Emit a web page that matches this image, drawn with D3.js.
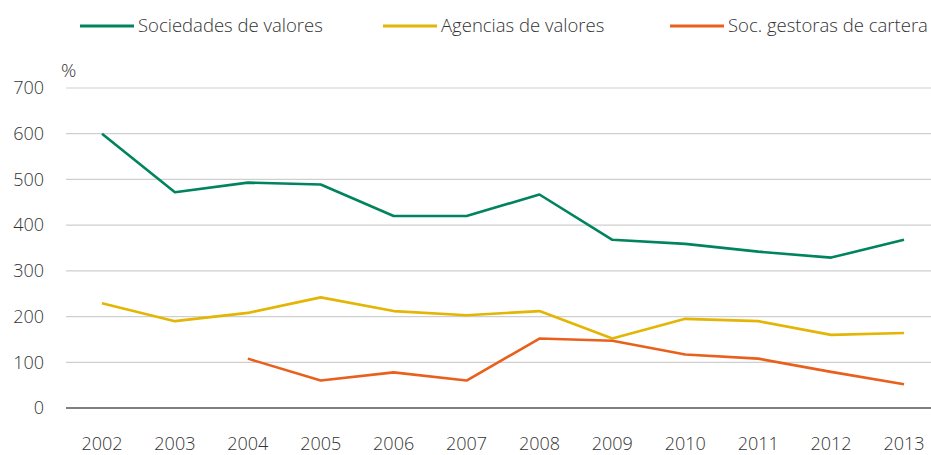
<!DOCTYPE html>
<html>
<head>
<meta charset="utf-8">
<script src="https://cdn.jsdelivr.net/npm/d3@7"></script>
<style>
  body { margin: 0; background: #fff; }
  svg text { font-family: "Open Sans", "Noto Sans", sans-serif; font-weight: 300; fill: #333; }
</style>
</head>
<body>
<div id="chart"></div>
<script>
const years = ['2002', '2003', '2004', '2005', '2006', '2007', '2008', '2009', '2010', '2011', '2012', '2013'];
const sociedades = [600, 472, 493, 489, 420, 420, 467, 368, 359, 342, 329, 368];
const agencias = [229, 190, 208, 242, 212, 203, 212, 152, 195, 190, 160, 164];
const gestoras = [null, null, 108, 60, 78, 60, 152, 147, 117, 108, 79, 52];
const yTicks = [0, 100, 200, 300, 400, 500, 600, 700];

const seriesNames = ['Sociedades de valores', 'Agencias de valores', 'Soc. gestoras de cartera'];
const seriesColors = ['#00845e', '#e3b505', '#e8601c'];

const width = 931, height = 455;
const plotLeft = 66, plotRight = 931;

const svg = d3.select('#chart')
    .append('svg')
    .attr('width', width)
    .attr('height', height);

const x = d3.scalePoint()
    .domain(years)
    .range([102, 904]);

const y = d3.scaleLinear()
    .domain([0, 700])
    .range([408, 88]);

// Gridlines
svg.append('g')
    .selectAll('line')
    .data(yTicks.filter(d => d > 0))
    .enter()
    .append('line')
    .attr('x1', plotLeft)
    .attr('x2', plotRight)
    .attr('y1', d => y(d))
    .attr('y2', d => y(d))
    .attr('stroke', '#cfcfcf')
    .attr('stroke-width', 1.2);

// Zero line
svg.append('line')
    .attr('x1', plotLeft)
    .attr('x2', plotRight)
    .attr('y1', y(0))
    .attr('y2', y(0))
    .attr('stroke', '#555')
    .attr('stroke-width', 1.5);

// Y tick labels
svg.append('g')
    .selectAll('text')
    .data(yTicks)
    .enter()
    .append('text')
    .attr('x', 44)
    .attr('y', d => y(d))
    .attr('dy', '0.35em')
    .attr('text-anchor', 'end')
    .attr('font-size', 18)
    .text(d => d);

svg.append('text')
    .attr('x', 61)
    .attr('y', 77)
    .attr('font-size', 19)
    .text('%');

// X tick labels
svg.append('g')
    .selectAll('text')
    .data(years)
    .enter()
    .append('text')
    .attr('x', d => x(d))
    .attr('y', 450)
    .attr('text-anchor', 'middle')
    .attr('font-size', 18)
    .text(d => d);

// Lines
const line = d3.line()
    .defined(d => d.v != null)
    .x(d => x(d.year))
    .y(d => y(d.v));

[sociedades, agencias, gestoras].forEach((vals, i) => {
    svg.append('path')
        .datum(years.map((yr, j) => ({ year: yr, v: vals[j] })))
        .attr('fill', 'none')
        .attr('stroke', seriesColors[i])
        .attr('stroke-width', 2.6)
        .attr('stroke-linejoin', 'round')
        .attr('d', line);
});

// Legend
const legendX = [80, 383, 670];
const legend = svg.append('g')
    .selectAll('g')
    .data(seriesNames)
    .enter()
    .append('g')
    .attr('transform', (d, i) => `translate(${legendX[i]}, 26)`);

legend.append('line')
    .attr('x1', 0)
    .attr('x2', 54)
    .attr('stroke', (d, i) => seriesColors[i])
    .attr('stroke-width', 3);

legend.append('text')
    .attr('x', 58)
    .attr('dy', '0.35em')
    .attr('font-size', 18.5)
    .text(d => d);
</script>
</body>
</html>
